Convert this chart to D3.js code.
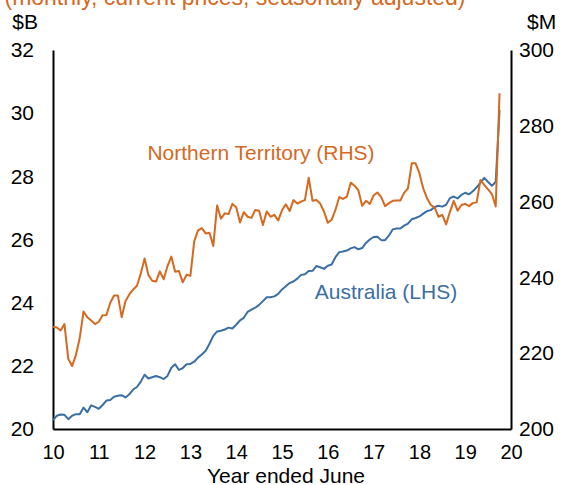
<!DOCTYPE html>
<html><head><meta charset="utf-8">
<script src="https://cdn.jsdelivr.net/npm/d3@7"></script>
<style>
html,body{margin:0;padding:0;background:#fff;}
svg{display:block;font-family:"Liberation Sans",Arial,sans-serif;}
</style></head>
<body>
<script>
// Monthly data, month 0 = start of x axis ("10")
const australia = [20.28,20.42,20.46,20.45,20.31,20.42,20.47,20.47,20.68,20.53,
20.75,20.70,20.64,20.76,20.90,20.92,21.02,21.05,21.07,21.00,
21.10,21.25,21.33,21.50,21.72,21.60,21.64,21.68,21.64,21.58,
21.68,21.94,22.05,21.87,21.93,22.05,22.06,22.13,22.26,22.36,
22.48,22.70,22.95,23.09,23.11,23.15,23.21,23.18,23.30,23.44,
23.52,23.71,23.78,23.84,23.93,24.05,24.17,24.17,24.20,24.28,
24.42,24.52,24.62,24.67,24.76,24.88,24.90,25.00,25.01,25.16,
25.12,25.07,25.17,25.21,25.44,25.60,25.62,25.65,25.72,25.76,
25.69,25.73,25.89,26.00,26.08,26.09,25.98,25.98,26.12,26.32,
26.35,26.35,26.44,26.50,26.64,26.68,26.73,26.82,26.90,26.93,
27.03,27.07,27.04,27.10,27.31,27.36,27.30,27.41,27.48,27.43,
27.53,27.65,27.80,27.95,27.82,27.70,27.83,30.10];
const northernTerritory = [227.0,226.8,226.0,227.7,218.5,216.6,219.5,224.0,231.0,229.5,
228.6,227.7,228.3,230.0,230.1,233.3,235.2,235.2,229.5,233.8,
235.5,236.8,237.8,241.0,245.0,240.6,239.1,238.9,241.6,239.5,
243.0,245.5,241.5,241.7,238.7,240.7,240.4,249.5,252.4,253.0,
251.6,251.8,248.3,259.0,255.5,256.9,256.7,259.4,258.5,254.5,
257.2,256.0,255.7,257.8,257.6,253.8,257.4,256.0,256.5,255.0,
257.7,259.3,257.5,260.4,259.5,260.0,260.4,266.3,260.2,260.4,
259.5,257.4,254.4,255.2,257.8,261.2,260.7,261.3,265.0,264.2,
263.0,258.9,260.2,259.4,261.6,262.4,261.2,258.8,259.6,260.2,
260.3,260.3,262.3,263.5,270.1,270.1,267.5,263.5,260.9,259.1,
258.4,256.0,256.5,254.0,257.3,260.2,257.6,259.1,259.4,258.8,
259.6,259.8,265.7,264.4,263.2,262.0,258.7,288.6];
const xTickLabels = ["10","11","12","13","14","15","16","17","18","19","20"];
const leftTicks = [20,22,24,26,28,30,32];
const rightTicks = [200,220,240,260,280,300];
const title = "(monthly, current prices, seasonally adjusted)";

const W = 568, H = 485;
const M = {l:53, r:511, t:50, b:429};
const orange = "#D4691F", blue = "#3B6EA3";

const svg = d3.select("body").append("svg").attr("width",W).attr("height",H);

const x = d3.scaleLinear().domain([0,120]).range([M.l,M.r]);
const yL = d3.scaleLinear().domain([20,32]).range([M.b,M.t]);
const yR = d3.scaleLinear().domain([200,300]).range([M.b,M.t]);

// title (clipped at top in reference)
svg.append("text").attr("x",235).attr("y",5).attr("text-anchor","middle")
  .attr("font-size",23).attr("fill",orange).text(title);

// unit labels
svg.append("text").attr("x",38).attr("y",29).attr("text-anchor","end")
  .attr("font-size",21).attr("fill","#000").text("$B");
svg.append("text").attr("x",527).attr("y",29).attr("text-anchor","start")
  .attr("font-size",21).attr("fill","#000").text("$M");

// axes
const axL = d3.axisLeft(yL).tickValues(leftTicks).tickSize(0).tickPadding(19);
const axR = d3.axisRight(yR).tickValues(rightTicks).tickSize(0).tickPadding(8);
const axB = d3.axisBottom(x).tickValues(d3.range(0,121,12)).tickSize(0).tickPadding(16)
  .tickFormat((d,i)=>xTickLabels[i]);

function style(g, fs){
  g.select(".domain").attr("stroke","#000").attr("stroke-width",2);
  g.selectAll("text").attr("font-size",fs).attr("fill","#000")
   .attr("font-family","\"Liberation Sans\",Arial,sans-serif");
}
svg.append("g").attr("transform",`translate(${M.l},0)`).call(axL).call(style,21);
svg.append("g").attr("transform",`translate(${M.r},0)`).call(axR).call(style,21);
svg.append("g").attr("transform",`translate(0,${M.b})`).call(axB).call(style,20);

// lines
const lineL = d3.line().x((d,i)=>x(i)).y(d=>yL(d));
const lineR = d3.line().x((d,i)=>x(i)).y(d=>yR(d));
svg.append("path").datum(australia).attr("d",lineL).attr("fill","none")
  .attr("stroke",blue).attr("stroke-width",2).attr("stroke-linejoin","round");
svg.append("path").datum(northernTerritory).attr("d",lineR).attr("fill","none")
  .attr("stroke",orange).attr("stroke-width",2).attr("stroke-linejoin","round");

// series labels
svg.append("text").attr("x",261).attr("y",160).attr("text-anchor","middle")
  .attr("font-size",21).attr("fill",orange).text("Northern Territory (RHS)");
svg.append("text").attr("x",386).attr("y",299).attr("text-anchor","middle")
  .attr("font-size",21).attr("fill",blue).text("Australia (LHS)");

// x axis title
svg.append("text").attr("x",286).attr("y",483).attr("text-anchor","middle")
  .attr("font-size",21).attr("fill","#000").text("Year ended June");
</script>
</body></html>
